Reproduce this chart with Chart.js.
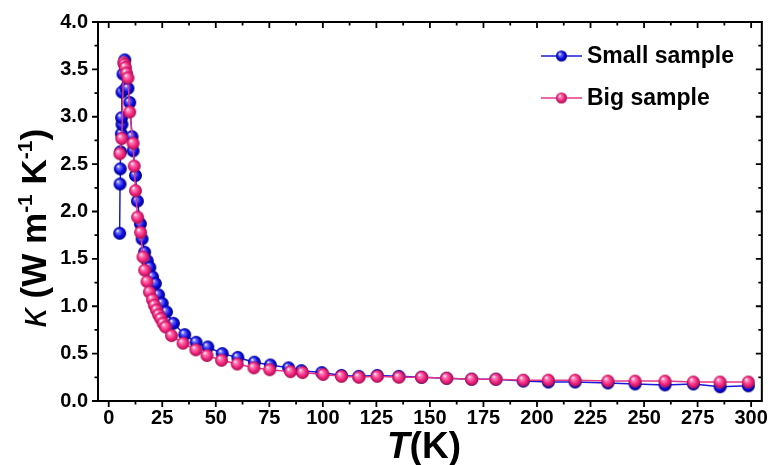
<!DOCTYPE html>
<html><head><meta charset="utf-8">
<script src="https://cdn.jsdelivr.net/npm/chart.js@4/dist/chart.umd.min.js"></script>
<style>html,body{margin:0;padding:0;background:#fff}#wrap{width:773px;height:465px}</style>
</head><body><div id="wrap"><canvas id="c" width="773" height="465"></canvas></div>
<script>
// ---- data ----
const seriesLabels = ['Small sample', 'Big sample'];
const smallT = [5.1, 5.3, 5.4, 5.5, 5.9, 6.2, 6.0, 6.2, 6.7, 7.5, 8.0, 9.0, 9.8, 10.9, 11.4, 12.5, 13.4, 14.8, 15.6, 16.8, 18.0, 19.2, 20.5, 21.8, 23.3, 25.0, 27.0, 30.2, 35.5, 40.8, 46.3, 53.0, 60.3, 68.0, 75.5, 84.0, 90.0, 99.5, 108.7, 116.8, 125.4, 135.5, 146.1, 157.8, 169.5, 180.8, 193.6, 205.3, 217.8, 233.1, 245.8, 259.8, 273.0, 285.5, 298.7];
const smallK = [1.77, 2.29, 2.45, 2.63, 2.82, 2.92, 2.99, 3.26, 3.45, 3.60, 3.30, 3.30, 3.15, 2.79, 2.64, 2.38, 2.11, 1.87, 1.71, 1.57, 1.48, 1.41, 1.31, 1.24, 1.12, 1.03, 0.94, 0.82, 0.70, 0.62, 0.57, 0.50, 0.46, 0.41, 0.38, 0.35, 0.32, 0.30, 0.27, 0.26, 0.27, 0.26, 0.25, 0.24, 0.23, 0.23, 0.21, 0.20, 0.20, 0.19, 0.18, 0.17, 0.18, 0.15, 0.16];
const bigT = [5.2, 6.1, 7.0, 7.4, 7.8, 8.3, 9.0, 9.8, 11.4, 11.9, 12.5, 13.5, 14.9, 16.0, 16.8, 17.9, 19.0, 20.4, 21.3, 22.3, 23.3, 24.3, 25.4, 26.6, 29.3, 34.7, 40.7, 45.9, 52.7, 60.0, 67.8, 75.2, 84.9, 90.5, 100.1, 108.7, 116.8, 125.4, 135.5, 146.1, 157.8, 169.5, 180.8, 193.6, 205.3, 217.8, 233.1, 245.8, 259.8, 273.0, 285.5, 298.7];
const bigK = [2.61, 2.77, 3.57, 3.55, 3.52, 3.46, 3.41, 3.05, 2.72, 2.48, 2.22, 1.94, 1.78, 1.52, 1.38, 1.26, 1.15, 1.07, 1.01, 0.96, 0.91, 0.87, 0.82, 0.78, 0.69, 0.61, 0.54, 0.48, 0.43, 0.39, 0.35, 0.33, 0.31, 0.30, 0.28, 0.26, 0.25, 0.26, 0.25, 0.25, 0.24, 0.23, 0.23, 0.22, 0.22, 0.22, 0.21, 0.21, 0.21, 0.20, 0.20, 0.20];
const xTicks = [0, 25, 50, 75, 100, 125, 150, 175, 200, 225, 250, 275, 300];
const yTicks = [0, 0.5, 1.0, 1.5, 2.0, 2.5, 3.0, 3.5, 4.0];
const xMinorTicks = [12.5, 37.5, 62.5, 87.5, 112.5, 137.5, 162.5, 187.5, 212.5, 237.5, 262.5, 287.5];
const yMinorTicks = [0.25, 0.75, 1.25, 1.75, 2.25, 2.75, 3.25, 3.75];

const FONT = "'Liberation Sans', Arial, sans-serif";

function makeBall(r, light, base, dark) {
  const s = Math.ceil(2 * r + 2);
  const c = document.createElement('canvas');
  c.width = s; c.height = s;
  const ctx = c.getContext('2d');
  const cx = s / 2, cy = s / 2;
  const g = ctx.createRadialGradient(cx - r * 0.35, cy - r * 0.4, r * 0.05, cx, cy, r);
  g.addColorStop(0, '#ffffff');
  g.addColorStop(0.22, light);
  g.addColorStop(0.65, base);
  g.addColorStop(1, dark);
  ctx.fillStyle = g;
  ctx.beginPath(); ctx.arc(cx, cy, r, 0, Math.PI * 2); ctx.fill();
  return c;
}
const blueBall = makeBall(6.5, '#7070ff', '#0b0be2', '#000080');
const pinkBall = makeBall(6.5, '#ff80b8', '#f2237d', '#a3104f');
const blueBallS = makeBall(5.5, '#7070ff', '#0b0be2', '#000080');
const pinkBallS = makeBall(5.5, '#ff80b8', '#f2237d', '#a3104f');

const smallData = smallT.map((t, i) => ({ x: t, y: smallK[i] }));
const bigData = bigT.map((t, i) => ({ x: t, y: bigK[i] }));

const tickFont = { family: FONT, weight: 'bold', size: 20 };

const frameTicks = {
  id: 'frameTicks',
  afterDraw(chart) {
    const { ctx, chartArea: a, scales: { x, y } } = chart;
    ctx.save();
    ctx.strokeStyle = '#000';
    ctx.lineWidth = 2;
    ctx.strokeRect(a.left, a.top, a.right - a.left, a.bottom - a.top);
    ctx.lineWidth = 1.8;
    const major = 6, minor = 3.5;
    ctx.beginPath();
    xTicks.forEach(v => { const p = x.getPixelForValue(v);
      ctx.moveTo(p, a.bottom); ctx.lineTo(p, a.bottom + major);
      ctx.moveTo(p, a.top); ctx.lineTo(p, a.top + major); });
    xMinorTicks.forEach(v => { const p = x.getPixelForValue(v);
      ctx.moveTo(p, a.bottom); ctx.lineTo(p, a.bottom + minor);
      ctx.moveTo(p, a.top); ctx.lineTo(p, a.top + minor); });
    yTicks.forEach(v => { const p = y.getPixelForValue(v);
      ctx.moveTo(a.left, p); ctx.lineTo(a.left - major, p);
      ctx.moveTo(a.right, p); ctx.lineTo(a.right - major, p); });
    yMinorTicks.forEach(v => { const p = y.getPixelForValue(v);
      ctx.moveTo(a.left, p); ctx.lineTo(a.left - minor, p);
      ctx.moveTo(a.right, p); ctx.lineTo(a.right - minor, p); });
    ctx.stroke();

    // axis titles
    ctx.fillStyle = '#000';
    ctx.textBaseline = 'alphabetic';
    // x title: T(K)
    const xt = [{ t: 'T', f: `italic bold 37px ${FONT}` }, { t: '(K)', f: `bold 37px ${FONT}` }];
    let w = 0; xt.forEach(p => { ctx.font = p.f; p.w = ctx.measureText(p.t).width; w += p.w; });
    let cx = 424 - w / 2;
    xt.forEach(p => { ctx.font = p.f; ctx.fillText(p.t, cx, 458); cx += p.w; });

    // y title: κ (W m-1 K-1)
    const parts = [
      { t: 'κ', f: `italic 38px ${FONT}`, dy: 0 },
      { t: ' (W m', f: `bold 35px ${FONT}`, dy: 0 },
      { t: '-1', f: `bold 21px ${FONT}`, dy: -14 },
      { t: ' K', f: `bold 35px ${FONT}`, dy: 0 },
      { t: '-1', f: `bold 21px ${FONT}`, dy: -14 },
      { t: ')', f: `bold 35px ${FONT}`, dy: 0 }
    ];
    w = 0; parts.forEach(p => { ctx.font = p.f; p.w = ctx.measureText(p.t).width; w += p.w; });
    ctx.translate(46, 228);
    ctx.rotate(-Math.PI / 2);
    let px = -w / 2;
    parts.forEach(p => { ctx.font = p.f; ctx.fillText(p.t, px, p.dy); px += p.w; });
    ctx.restore();

    // legend
    ctx.save();
    const items = [
      { label: seriesLabels[0], color: '#1a1ad6', ball: blueBallS, y: 56 },
      { label: seriesLabels[1], color: '#e4358a', ball: pinkBallS, y: 98 }
    ];
    items.forEach(it => {
      ctx.strokeStyle = it.color; ctx.lineWidth = 1.6;
      ctx.beginPath(); ctx.moveTo(541, it.y); ctx.lineTo(582, it.y); ctx.stroke();
      ctx.drawImage(it.ball, 561.5 - it.ball.width / 2, it.y - it.ball.height / 2);
      ctx.fillStyle = '#000';
      ctx.font = `bold 23px ${FONT}`;
      ctx.textBaseline = 'middle';
      ctx.fillText(it.label, 587, it.y + 1);
    });
    ctx.restore();
  }
};

new Chart(document.getElementById('c'), {
  type: 'line',
  data: {
    datasets: [
      { label: seriesLabels[0], data: smallData, borderColor: '#1a1ad6', borderWidth: 1.5,
        pointStyle: blueBall, pointRadius: 6.5, order: 2, tension: 0, fill: false },
      { label: seriesLabels[1], data: bigData, borderColor: '#e4358a', borderWidth: 1.5,
        pointStyle: pinkBall, pointRadius: 6.5, order: 1, tension: 0, fill: false }
    ]
  },
  options: {
    responsive: false,
    animation: false,
    devicePixelRatio: 1,
    layout: { padding: { left: 0, right: 11, top: 21, bottom: 0 } },
    plugins: { legend: { display: false }, tooltip: { enabled: false } },
    scales: {
      x: {
        type: 'linear', min: -5, max: 305,
        afterBuildTicks: s => { s.ticks = xTicks.map(v => ({ value: v })); },
        afterFit: s => { s.height = 64; },
        grid: { display: false, drawTicks: false },
        border: { display: false },
        ticks: { font: tickFont, color: '#000', padding: 5, maxRotation: 0, autoSkip: false }
      },
      y: {
        type: 'linear', min: 0, max: 4,
        afterBuildTicks: s => { s.ticks = yTicks.map(v => ({ value: v })); },
        afterFit: s => { s.width = 98; },
        grid: { display: false, drawTicks: false },
        border: { display: false },
        ticks: { font: tickFont, color: '#000', padding: 10, autoSkip: false,
          callback: v => Number(v).toFixed(1) }
      }
    }
  },
  plugins: [frameTicks]
});
</script>
</body></html>
